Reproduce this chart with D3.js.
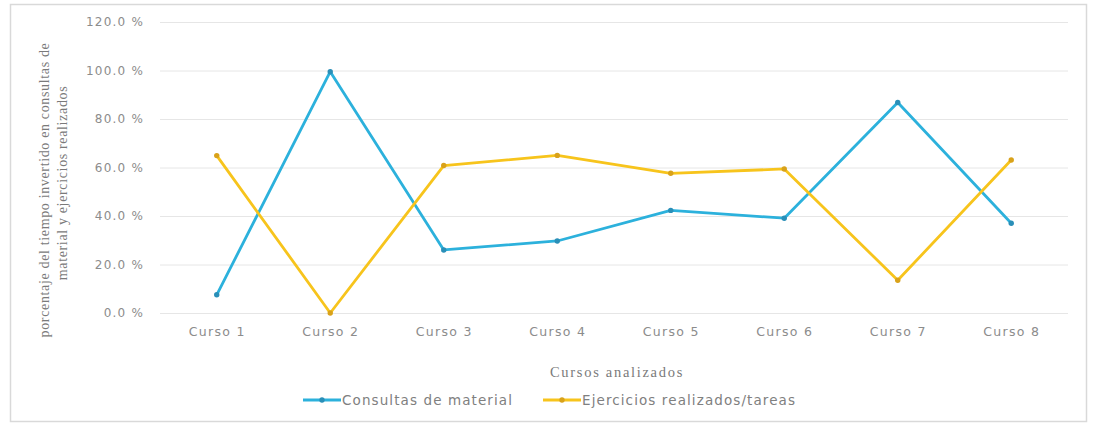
<!DOCTYPE html>
<html><head><meta charset="utf-8">
<script src="https://cdn.jsdelivr.net/npm/d3@7"></script>
<style>body{margin:0;background:#fff;} svg{display:block;}</style>
</head><body>
<svg id="c" width="1118" height="431"></svg>
<script>
const categories = ["Curso 1","Curso 2","Curso 3","Curso 4","Curso 5","Curso 6","Curso 7","Curso 8"];
const consultas = [7.5, 99.5, 26.0, 29.7, 42.3, 39.1, 86.8, 37.0];
const ejercicios = [64.9, 0.0, 60.8, 65.0, 57.6, 59.4, 13.5, 63.1];
const yTicks = [0, 20, 40, 60, 80, 100, 120];
const seriesNames = ["Consultas de material", "Ejercicios realizados/tareas"];
const colors = ["#2cb1dc", "#f7c41c"];
const markerColors = ["#2a8fb8", "#d9a21a"];

(function(){
const svg = d3.select("#c");
svg.append("rect").attr("x",10.5).attr("y",4.5).attr("width",1076).attr("height",417)
  .attr("fill","#fff").attr("stroke","#d9d9d9").attr("stroke-width",1.5);

const pl = 160, pr = 1068, pt = 22, pb = 313;
const x = d3.scalePoint().domain(categories).range([pl, pr]).padding(0.5);
const y = d3.scaleLinear().domain([0,120]).range([pb, pt]);

svg.append("g").selectAll("line").data(yTicks).join("line")
  .attr("x1", pl).attr("x2", pr)
  .attr("y1", d => y(d)+0.5).attr("y2", d => y(d)+0.5)
  .attr("stroke", "#e6e6e6").attr("stroke-width", 1);

const yAxis = d3.axisLeft(y).tickValues(yTicks).tickSize(0).tickPadding(0)
  .tickFormat(d => d.toFixed(1) + " %");
const gy = svg.append("g").attr("transform", `translate(144,0)`).call(yAxis);
gy.select(".domain").remove();
gy.selectAll("text").attr("fill","#8c8c8c").style("font-family","'DejaVu Sans', sans-serif")
  .style("font-size","12px").style("letter-spacing","1.2px");

const xAxis = d3.axisBottom(x).tickSize(0).tickPadding(0);
const gx = svg.append("g").attr("transform", `translate(0,327)`).call(xAxis);
gx.select(".domain").remove();
gx.selectAll("text").attr("fill","#8c8c8c").style("font-family","'DejaVu Sans', sans-serif")
  .style("font-size","12.5px").style("letter-spacing","1.3px");

const line = d3.line().x((d,i) => x(categories[i])).y(d => y(d));
[consultas, ejercicios].forEach((vals, k) => {
  svg.append("path").datum(vals).attr("d", line)
    .attr("fill","none").attr("stroke", colors[k]).attr("stroke-width", 2.8)
    .attr("stroke-linejoin","round");
  svg.append("g").selectAll("circle").data(vals).join("circle")
    .attr("cx", (d,i) => x(categories[i])).attr("cy", d => y(d)).attr("r", 2.7)
    .attr("fill", markerColors[k]);
});

svg.append("text").attr("x", 617).attr("y", 377).attr("text-anchor","middle")
  .attr("fill","#7a7a7a").style("font-family","'Liberation Serif', serif").style("font-size","14.5px")
  .style("letter-spacing","1.7px")
  .text("Cursos analizados");

const yt = svg.append("text").attr("transform","rotate(-90)")
  .attr("fill","#7a7a7a").style("font-family","'Liberation Serif', serif").style("font-size","14px")
  .style("letter-spacing","0.65px")
  .attr("text-anchor","middle");
yt.append("tspan").attr("x", -190).attr("y", 49).text("porcentaje del tiempo invertido en consultas de");
yt.append("tspan").attr("x", -183).attr("y", 67).text("material y ejercicios realizados");

const legX = [303, 543];
seriesNames.forEach((name, k) => {
  const g = svg.append("g").attr("transform", `translate(${legX[k]},400)`);
  g.append("line").attr("x1",0).attr("x2",38).attr("y1",0).attr("y2",0)
    .attr("stroke", colors[k]).attr("stroke-width", 2.8);
  g.append("circle").attr("cx",19).attr("cy",0).attr("r",2.7).attr("fill", markerColors[k]);
  g.append("text").attr("x", 39).attr("y", 5).attr("fill","#808080")
    .style("font-family","'DejaVu Sans', sans-serif").style("font-size","13.5px")
    .style("letter-spacing","1.1px").text(name);
});
})();
</script>
</body></html>
